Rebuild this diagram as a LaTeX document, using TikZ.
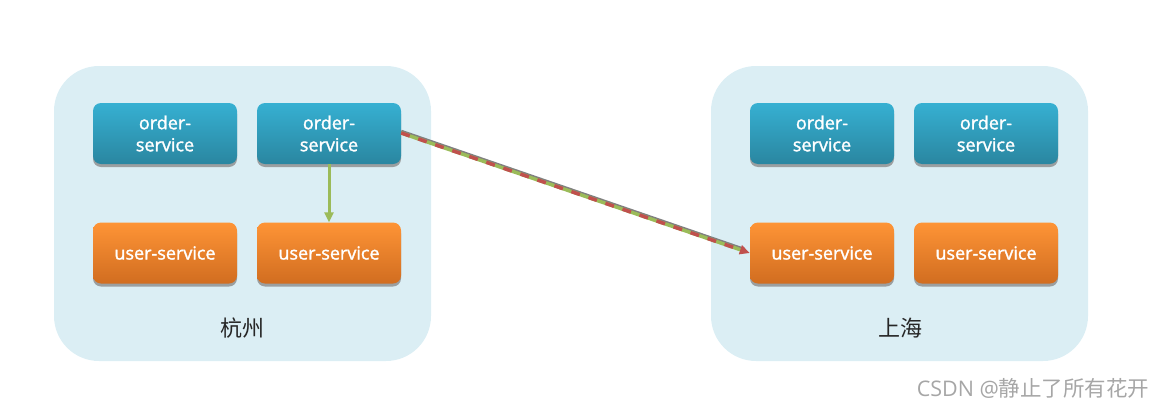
\documentclass[tikz,border=0pt]{standalone}
\usepackage{fontspec}
\setmainfont{Open Sans}
\newfontfamily\boxfont[RawFeature={embolden=1.6}]{Open Sans}
\newfontfamily\cjk{Noto Sans CJK SC}
\usetikzlibrary{arrows.meta,shadows}
\definecolor{regionbg}{HTML}{DBEEF4}
\definecolor{bluetop}{HTML}{36B0D2}
\definecolor{bluebot}{HTML}{2A86A0}
\definecolor{orgtop}{HTML}{FE9436}
\definecolor{orgbot}{HTML}{D16D20}
\definecolor{lgreen}{HTML}{9BBB59}
\definecolor{lred}{HTML}{C0504D}
\tikzset{
  region/.style={fill=regionbg, rounded corners=45pt, minimum width=377pt, minimum height=295pt, inner sep=0pt},
  svcbox/.style={rounded corners=8pt, minimum width=144pt, minimum height=61pt, inner sep=0pt,
    text=white, align=center, font=\boxfont\fontsize{18}{22}\selectfont,
    drop shadow={shadow xshift=0pt, shadow yshift=-3pt, fill=black!45, opacity=0.8}},
  ordersvc/.style={svcbox, top color=bluetop, bottom color=bluebot},
  usersvc/.style={svcbox, top color=orgtop, bottom color=orgbot},
  citylabel/.style={font=\cjk\fontsize{22}{24}\selectfont, text=black!85},
}
\begin{document}
\begin{tikzpicture}[x=1pt,y=-1pt]
\useasboundingbox (0,0) rectangle (1156,407);
\node[region] (hz) at (242.5,213.5) {};
\node[region] (sh) at (899.5,213.5) {};
\node[citylabel] (hzl) at (242,328) {杭州};
\node[citylabel] (shl) at (900,328) {上海};
\node[ordersvc] (lo1) at (165,133.5) {order-\\service};
\node[ordersvc] (lo2) at (329,133.5) {order-\\service};
\node[usersvc] (lu1) at (165,253) {user-service};
\node[usersvc] (lu2) at (329,253) {user-service};
\node[ordersvc] (ro1) at (822,133.5) {order-\\service};
\node[ordersvc] (ro2) at (986,133.5) {order-\\service};
\node[usersvc] (ru1) at (822,253) {user-service};
\node[usersvc] (ru2) at (986,253) {user-service};
% local call
\draw[lgreen, line width=3pt, -{Triangle[length=10pt,width=9pt]}] (lo2.south) -- (lu2.north);
% cross-region call
\coordinate (cs) at ([yshift=0.5pt]lo2.east);
\coordinate (ce) at (ru1.west);
\draw[black!50, line width=3pt, shorten >=6pt] ([yshift=1.8pt]cs) -- ([yshift=1.8pt]ce);
\draw[lgreen, line width=3.5pt, shorten >=6pt] (cs) -- (ce);
\draw[lred, line width=3.5pt, dash pattern=on 9pt off 9pt, -{Triangle[length=10pt,width=9pt]}] (cs) -- (ce);
\node[font=\fontsize{21.5}{24}\selectfont, text=black!35, anchor=east] (wm) at (1153,388) {CSDN @{\cjk 静止了所有花开}};
\end{tikzpicture}
\end{document}
